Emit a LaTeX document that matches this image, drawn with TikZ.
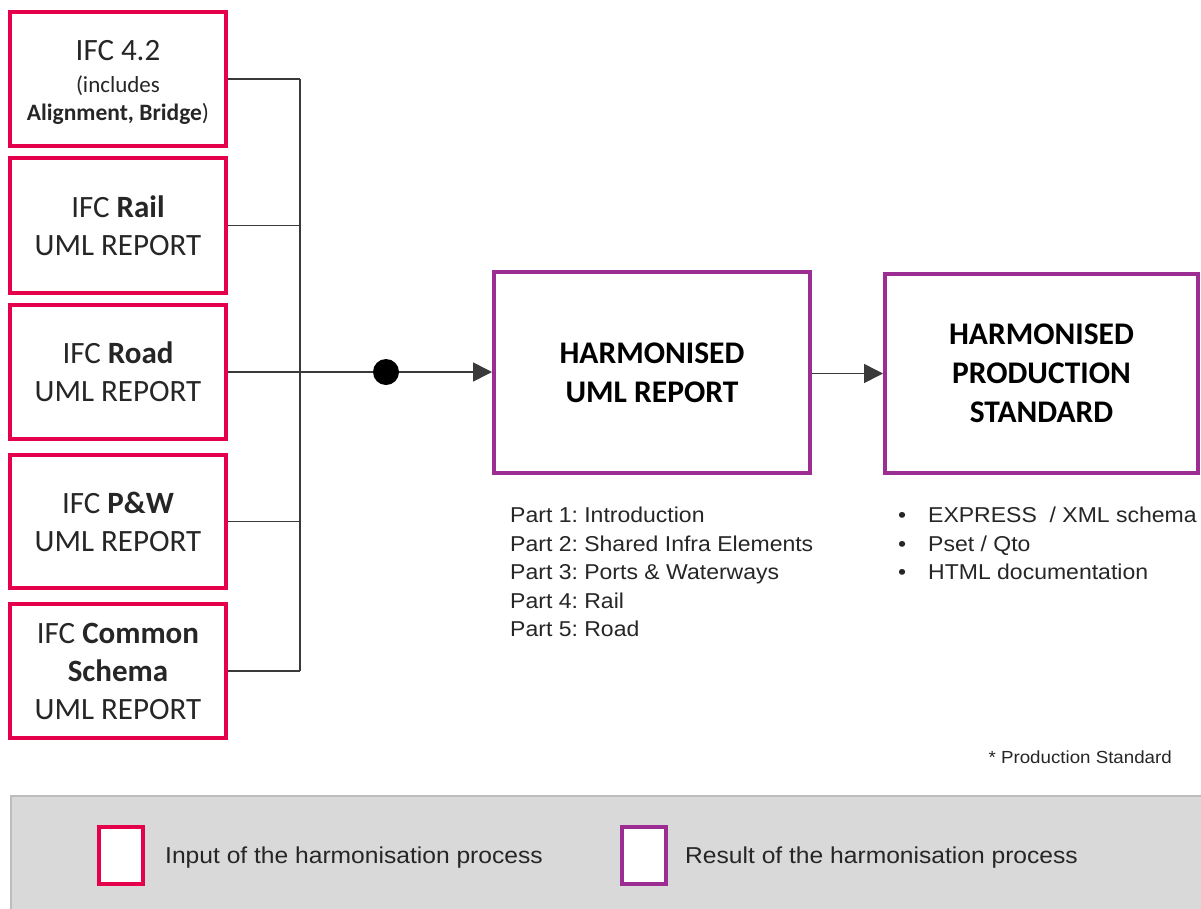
\documentclass[tikz,border=0pt]{standalone}
\usepackage{fontspec}
\setmainfont{Carlito}
\newfontfamily\arialf[FakeStretch=1.07]{Liberation Sans}
\usetikzlibrary{arrows.meta}
\definecolor{inred}{HTML}{E5004C}
\definecolor{outpurple}{HTML}{9C2E93}
\definecolor{linegray}{HTML}{3A3A3A}
\definecolor{txt}{HTML}{262626}
\definecolor{legfill}{HTML}{D9D9D9}
\definecolor{legdraw}{HTML}{BDBDBD}
\frenchspacing
\begin{document}
\begin{tikzpicture}[x=1pt,y=-1pt,
  inbox/.style={draw=inred,line width=4pt,fill=white,minimum width=216pt,inner sep=0pt,align=center,text=txt,font=\fontsize{31}{38}\selectfont},
  outbox/.style={draw=outpurple,line width=4pt,fill=white,inner sep=0pt,align=center,text=black,font=\bfseries\fontsize{31.5}{39}\selectfont},
  conn/.style={draw=linegray,line width=1.6pt},
  arr/.style={conn,-{Triangle[length=19pt,width=19pt]}},
  listtext/.style={inner sep=0pt,align=left,text=txt,font=\arialf\fontsize{21.5}{28.5}\selectfont},
  legtext/.style={inner sep=0pt,anchor=west,text=txt,font=\arialf\fontsize{23}{26}\selectfont},
  legbox/.style={line width=4pt,fill=white,minimum width=44pt,minimum height=57pt,inner sep=0pt}]
\useasboundingbox (0,0) rectangle (1201,908);
\fill[white] (0,0) rectangle (1201,908);

% input boxes
\node[inbox,minimum height=134pt] (b1) at (118,79)
  {\raisebox{0pt}[26pt][0pt]{IFC 4.2}\\[-6pt]{\fontsize{23}{27}\selectfont (includes}\\[-10pt]{\fontsize{23.5}{27}\selectfont \textbf{Alignment, Bridge})}};
\node[inbox,minimum height=135pt] (b2) at (118,225.5) {IFC \textbf{Rail}\\UML REPORT};
\node[inbox,minimum height=134pt] (b3) at (118,372) {IFC \textbf{Road}\\UML REPORT};
\node[inbox,minimum height=133pt] (b4) at (118,521.5) {IFC \textbf{P\&W}\\UML REPORT};
\node[inbox,minimum height=134pt] (b5) at (118,671) {IFC \textbf{Common}\\\textbf{Schema}\\UML REPORT};

% result boxes
\node[outbox,minimum width=316pt,minimum height=201pt] (h1) at (652,372.5) {HARMONISED\\UML REPORT};
\node[outbox,minimum width=313pt,minimum height=199pt] (h2) at (1041.5,373.5) {HARMONISED\\PRODUCTION\\STANDARD};

% connectors
\coordinate (busx) at (300,0);
\foreach \b in {b1,b2,b4,b5} {\draw[conn] (\b.east) -- (\b.east -| busx);}
\draw[conn] (b1.east -| busx) -- (b5.east -| busx);
\node[circle,fill=black,minimum size=26pt,inner sep=0pt] (dot) at (386,372) {};
\draw[conn] (b3.east) -- (dot);
\draw[arr] (dot) -- (h1.west |- dot);
\draw[arr] (h1.east |- h2.west) -- (h2.west);

% lists
\node[listtext,anchor=north west] (parts) at (510,507)
  {Part 1: Introduction\\Part 2: Shared Infra Elements\\Part 3: Ports \& Waterways\\Part 4: Rail\\Part 5: Road};
\node[listtext,anchor=north west] (outs) at (898,507)
  {\makebox[30pt][l]{\textbullet}EXPRESS\ \ / XML schema\\\makebox[30pt][l]{\textbullet}Pset / Qto\\\makebox[30pt][l]{\textbullet}HTML documentation};
\node[inner sep=0pt,anchor=east,text=txt,font=\arialf\fontsize{17.5}{20}\selectfont] (note) at (1172,757) {* Production Standard};

% legend
\node[draw=legdraw,fill=legfill,line width=1.5pt,minimum width=1195pt,minimum height=116pt,inner sep=0pt,anchor=north west] (legend) at (10,795) {};
\node[legbox,draw=inred] (lin) at (121,855.5) {};
\node[legtext] (lintext) at (165,858) {Input of the harmonisation process};
\node[legbox,draw=outpurple] (lout) at (644,855.5) {};
\node[legtext] (louttext) at (685,858) {Result of the harmonisation process};
\end{tikzpicture}
\end{document}
